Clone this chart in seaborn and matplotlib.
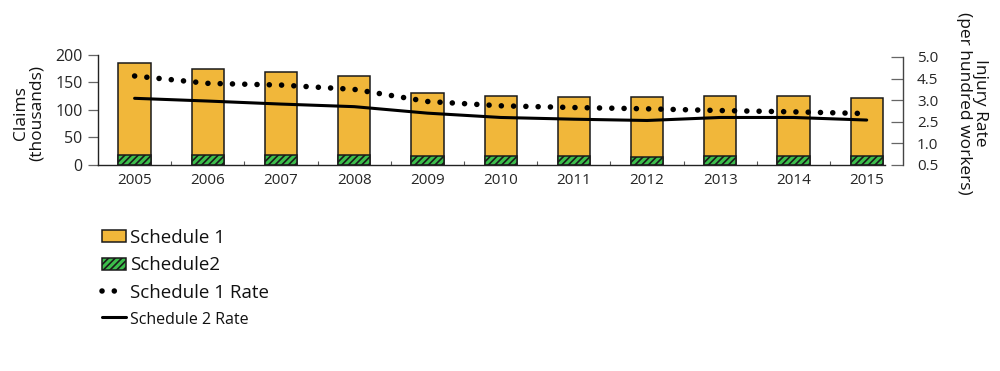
import numpy as np
import matplotlib
matplotlib.use("Agg")
import matplotlib.pyplot as plt
import seaborn as sns
from matplotlib.ticker import FixedLocator, FormatStrFormatter

# ---- data ----
years = [2005, 2006, 2007, 2008, 2009, 2010, 2011, 2012, 2013, 2014, 2015]
schedule1 = [166, 156, 151, 144, 114, 109, 107, 108, 109, 110, 105]   # thousands
schedule2 = [19, 19, 18, 18, 17, 16, 16, 15, 16, 16, 16]              # thousands
schedule1_rate = [4.56, 4.17, 4.05, 3.75, 2.97, 2.87, 2.83, 2.80, 2.76, 2.73, 2.69]
schedule2_rate = [3.13, 2.98, 2.91, 2.85, 2.70, 2.60, 2.56, 2.53, 2.60, 2.60, 2.54]
left_ticks = [0, 50, 100, 150, 200]
right_tick_labels = [0.5, 1.0, 2.5, 3.0, 4.5, 5.0]
legend_labels = ["Schedule 1", "Schedule2", "Schedule 1 Rate", "Schedule 2 Rate"]

ORANGE = "#F1B73A"
GREEN = "#3CBE4B"

sns.set_theme(style="white")
plt.rcParams["font.family"] = ["Open Sans", "DejaVu Sans"]
plt.rcParams["hatch.linewidth"] = 1.2

fig = plt.figure(figsize=(10, 3.71), dpi=100)
ax = fig.add_axes([0.098, 0.5553, 0.787, 0.2965])

totals = [a + b for a, b in zip(schedule1, schedule2)]

sns.barplot(x=years, y=totals, native_scale=True, width=0.44, color=ORANGE,
            saturation=1, edgecolor="#1a1a1a", linewidth=1.1, errorbar=None, ax=ax)
sns.barplot(x=years, y=schedule2, native_scale=True, width=0.44, color=GREEN,
            saturation=1, edgecolor="#1a1a1a", linewidth=1.1, hatch="/////",
            errorbar=None, ax=ax)

ax.set_xlim(years[0] - 0.5, years[-1] + 0.25)
ax.set_ylim(0, 200)
ax.set_yticks(left_ticks)
ax.set_yticklabels([str(v) for v in left_ticks], fontsize=11.5)
ax.set_xticks(years)
ax.set_xticklabels([str(y) for y in years], fontsize=11)
ax.xaxis.set_minor_locator(FixedLocator([y + 0.5 for y in years[:-1]]))
ax.tick_params(axis="x", which="major", length=0, pad=6)
ax.tick_params(axis="x", which="minor", direction="in", length=3, width=0.8,
               color="#555555", bottom=True)
ax.tick_params(axis="y", which="major", direction="out", length=7, width=0.9,
               color="#666666", left=True, pad=4)
for s in ["top", "right"]:
    ax.spines[s].set_visible(False)
for s in ["left", "bottom"]:
    ax.spines[s].set_color("#222222")
    ax.spines[s].set_linewidth(1.0)
ax.set_xlabel("")
ax.set_ylabel("")

# ---- right axis (labels are spaced evenly in the reference) ----
ax2 = ax.twinx()
vals = np.array(right_tick_labels, dtype=float)
pos = np.arange(len(vals), dtype=float)


def fwd(v):
    v = np.asarray(v, dtype=float)
    out = np.interp(v, vals, pos)
    out = np.where(v > vals[-1], pos[-1] + (v - vals[-1]) / (vals[-1] - vals[-2]), out)
    out = np.where(v < vals[0], (v - vals[0]) / (vals[1] - vals[0]), out)
    return out


def inv(p):
    p = np.asarray(p, dtype=float)
    out = np.interp(p, pos, vals)
    out = np.where(p > pos[-1], vals[-1] + (p - pos[-1]) * (vals[-1] - vals[-2]), out)
    out = np.where(p < 0, vals[0] + p * (vals[1] - vals[0]), out)
    return out


ax2.set_yscale("function", functions=(fwd, inv))

sns.lineplot(x=years, y=schedule1_rate, ax=ax2, color="black", linewidth=4.0,
             linestyle=(0, (0.01, 2.2)), dash_capstyle="round")
sns.lineplot(x=years, y=schedule2_rate, ax=ax2, color="black", linewidth=2.2)

ax2.set_ylim(0.5, float(inv(110 / 21.6)))
ax2.yaxis.set_major_locator(FixedLocator(right_tick_labels))
ax2.yaxis.set_major_formatter(FormatStrFormatter("%.1f"))
ax2.yaxis.set_minor_locator(FixedLocator([]))
for t in ax2.get_yticklabels():
    t.set_fontsize(11.5)
ax2.tick_params(axis="y", which="major", direction="in", length=8.5, width=0.9,
                color="#666666", right=True, pad=10)
for s in ["top", "left", "bottom"]:
    ax2.spines[s].set_visible(False)
ax2.spines["right"].set_visible(True)
ax2.spines["right"].set_position(("axes", 1.023))
ax2.spines["right"].set_bounds(0.5, 5.0)
ax2.spines["right"].set_color("#444444")
ax2.spines["right"].set_linewidth(1.0)
ax2.set_xlabel("")
ax2.set_ylabel("")
ax2.set_xlim(years[0] - 0.5, years[-1] + 0.25)

# ---- axis titles ----
fig.text(0.029, 1 - 113 / 371, "Claims\n(thousands)", rotation=90, ha="center",
         va="center", fontsize=12.5, linespacing=1.0, color="#111111")
fig.text(0.972, 1 - 103 / 371, "Injury Rate\n(per hundred workers)", rotation=-90,
         ha="center", va="center", fontsize=12.5, linespacing=1.0, color="#111111")

# ---- legend ----
handles = [ax.containers[0][0], ax.containers[1][0], ax2.lines[0], ax2.lines[1]]
leg = fig.legend(handles, legend_labels, loc="upper left",
                 bbox_to_anchor=(0.102, 1 - 229 / 371), frameon=False,
                 fontsize=13.5, handlelength=1.3, handleheight=0.6,
                 handletextpad=0.2, labelspacing=0.5, borderpad=0,
                 borderaxespad=0)
leg.get_texts()[3].set_fontsize(11.5)
for t in leg.get_texts():
    t.set_color("#111111")

fig.savefig("out.png", dpi=100)
